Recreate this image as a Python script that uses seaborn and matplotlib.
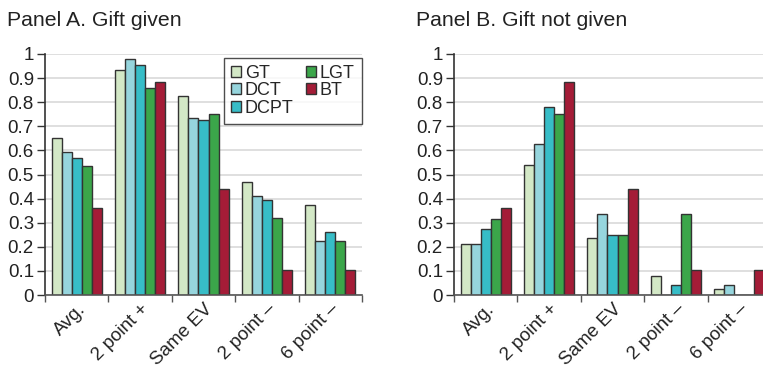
import matplotlib
matplotlib.use("Agg")
import matplotlib.pyplot as plt
import seaborn as sns
import pandas as pd

categories = ["Avg.", "2 point +", "Same EV", "2 point \u2013", "6 point \u2013"]
treatments = ["GT", "DCT", "DCPT", "LGT", "BT"]

panel_a = {
    "GT":   [0.65, 0.935, 0.825, 0.47, 0.375],
    "DCT":  [0.595, 0.98, 0.735, 0.41, 0.225],
    "DCPT": [0.57, 0.955, 0.725, 0.395, 0.26],
    "LGT":  [0.535, 0.86, 0.75, 0.32, 0.225],
    "BT":   [0.36, 0.885, 0.44, 0.105, 0.105],
}
panel_b = {
    "GT":   [0.21, 0.54, 0.235, 0.08, 0.025],
    "DCT":  [0.21, 0.625, 0.335, 0.0, 0.04],
    "DCPT": [0.275, 0.78, 0.25, 0.04, 0.0],
    "LGT":  [0.315, 0.75, 0.25, 0.335, 0.0],
    "BT":   [0.36, 0.885, 0.44, 0.105, 0.105],
}
titles = ["Panel A. Gift given", "Panel B. Gift not given"]
y_ticks = [0, 0.1, 0.2, 0.3, 0.4, 0.5, 0.6, 0.7, 0.8, 0.9, 1]
y_labels = ["0", "0.1", "0.2", "0.3", "0.4", "0.5", "0.6", "0.7", "0.8", "0.9", "1"]
colors = ["#d3e8c6", "#96d5dd", "#37bdc7", "#3ba64a", "#a41c37"]

def to_long(d):
    rows = []
    for t in treatments:
        for c, v in zip(categories, d[t]):
            rows.append({"cat": c, "treat": t, "val": v})
    return pd.DataFrame(rows)

sns.set_style("white")
plt.rcParams["font.family"] = ["Liberation Sans", "DejaVu Sans"]

fig = plt.figure(figsize=(7.63, 3.66), dpi=100)
ax_a = fig.add_axes([45/763, 1-295/366, 317/763, 241/366])
ax_b = fig.add_axes([454/763, 1-295/366, 317/763, 241/366])

for ax, data, title, show_legend in [(ax_a, panel_a, titles[0], True), (ax_b, panel_b, titles[1], False)]:
    df = to_long(data)
    sns.barplot(data=df, x="cat", y="val", hue="treat", hue_order=treatments,
                order=categories, palette=colors, width=0.79, ax=ax,
                edgecolor="#333333", linewidth=1.0, saturation=1, legend=show_legend)
    ax.set_xlim(-0.5, 4.5)
    ax.set_ylim(0, 1.0)
    ax.set_yticks(y_ticks)
    ax.set_yticklabels(y_labels, fontsize=13.5)
    ax.set_xlabel("")
    ax.set_ylabel("")
    ax.yaxis.grid(True, color="#d9d9d9", linewidth=1.2)
    ax.set_axisbelow(True)
    for s in ["top", "right"]:
        ax.spines[s].set_visible(False)
    ax.spines["left"].set_color("#333333")
    ax.spines["bottom"].set_color("#555555")
    ax.spines["left"].set_linewidth(1.2)
    ax.spines["bottom"].set_linewidth(1.2)
    ax.tick_params(axis="y", left=True, length=6, width=1, color="#333333", pad=2, colors="#222222")
    ax.set_xticks([-0.5, 0.5, 1.5, 2.5, 3.5, 4.5])
    ax.set_xticklabels([])
    ax.set_xticks(range(5), minor=True)
    ax.set_xticklabels(categories, minor=True, rotation=45, ha="right",
                       rotation_mode="anchor", fontsize=13.5, color="#222222")
    ax.tick_params(axis="x", which="major", bottom=True, length=5, width=1, color="#555555")
    ax.tick_params(axis="x", which="minor", bottom=False, length=0, pad=4)
    fig.text(ax.get_position().x0 - 38/763, 1 - 20/366, title, fontsize=15.3, ha="left", va="center", color="#222222")

leg = ax_a.legend(ncol=2, loc="upper right", bbox_to_anchor=(1.0, 0.985), frameon=True,
                  fontsize=13, handlelength=0.55, handleheight=0.55, handletextpad=0.2,
                  columnspacing=0.7, labelspacing=0.02, borderpad=0.4, fancybox=False,
                  borderaxespad=0.0)
leg.get_frame().set_edgecolor("#222222")
leg.get_frame().set_linewidth(1.0)

fig.savefig("out.png", dpi=100)
